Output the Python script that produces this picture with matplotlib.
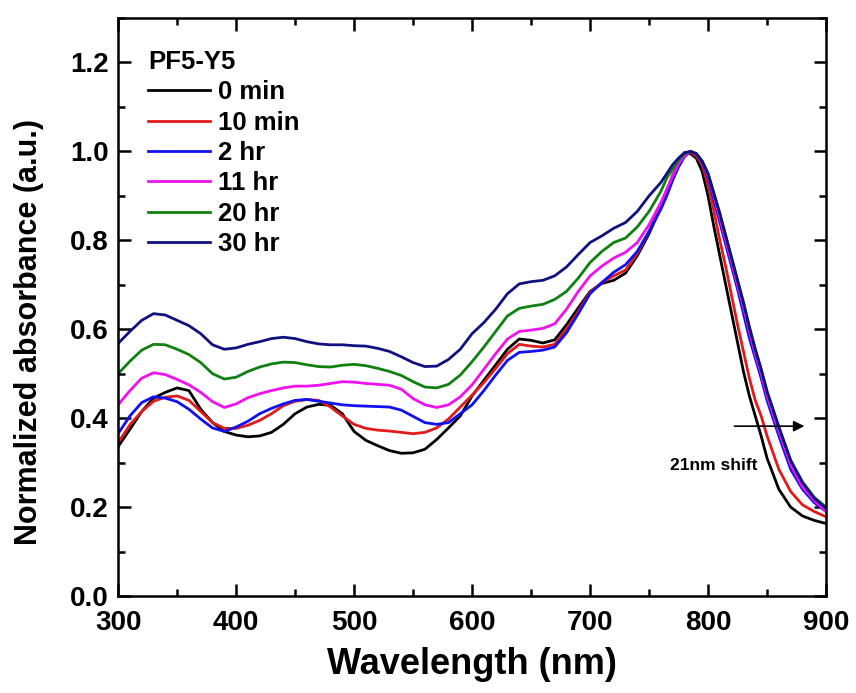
import matplotlib
matplotlib.use("Agg")
import matplotlib.pyplot as plt
from matplotlib.ticker import MultipleLocator

plt.rcParams['font.family'] = ['Liberation Sans', 'DejaVu Sans']
plt.rcParams['font.weight'] = 'bold'

wavelength = [300, 310, 320, 330, 340, 350, 360, 370, 380, 390,
              400, 410, 420, 430, 440, 450, 460, 470, 480, 490,
              500, 510, 520, 530, 540, 550, 560, 570, 580, 590,
              600, 610, 620, 630, 640, 650, 660, 670, 680, 690,
              700, 710, 720, 730, 740, 750, 760, 765, 770, 775,
              780, 785, 790, 795, 800, 805, 810, 815, 820, 825,
              830, 835, 840, 845, 850, 860, 870, 880, 890, 900]

abs_0min = [0.336, 0.375, 0.415, 0.445, 0.458, 0.468, 0.462, 0.42, 0.39, 0.37,
            0.362, 0.358, 0.36, 0.368, 0.386, 0.41, 0.425, 0.431, 0.429, 0.41,
            0.37, 0.35, 0.338, 0.327, 0.321, 0.322, 0.33, 0.352, 0.378, 0.405,
            0.45, 0.485, 0.52, 0.555, 0.578, 0.575, 0.569, 0.576, 0.61, 0.648,
            0.685, 0.703, 0.71, 0.726, 0.765, 0.815, 0.875, 0.91, 0.945, 0.975,
            0.997, 0.995, 0.985, 0.955, 0.9, 0.83, 0.765, 0.70, 0.635, 0.57,
            0.505, 0.45, 0.405, 0.36, 0.31, 0.24, 0.2, 0.18, 0.17, 0.163]

abs_10min = [0.345, 0.385, 0.415, 0.438, 0.447, 0.45, 0.44, 0.415, 0.39, 0.377,
             0.377, 0.384, 0.395, 0.41, 0.428, 0.438, 0.442, 0.44, 0.425, 0.405,
             0.386, 0.377, 0.373, 0.371, 0.368, 0.365, 0.368, 0.378, 0.398, 0.425,
             0.452, 0.48, 0.512, 0.545, 0.566, 0.562, 0.56, 0.566, 0.6, 0.64,
             0.683, 0.705, 0.72, 0.733, 0.77, 0.82, 0.88, 0.91, 0.945, 0.975,
             0.993, 0.998, 0.99, 0.97, 0.925, 0.865, 0.8, 0.74, 0.675, 0.61,
             0.55, 0.49, 0.44, 0.405, 0.36, 0.285, 0.235, 0.205, 0.19, 0.178]

abs_2hr = [0.365, 0.405, 0.435, 0.448, 0.445, 0.437, 0.42, 0.398, 0.378, 0.37,
           0.38, 0.393, 0.41, 0.422, 0.432, 0.44, 0.442, 0.438, 0.434, 0.43,
           0.428, 0.427, 0.426, 0.425, 0.418, 0.404, 0.39, 0.386, 0.39, 0.41,
           0.43, 0.462, 0.497, 0.53, 0.548, 0.55, 0.553, 0.56, 0.592, 0.635,
           0.68, 0.705, 0.728, 0.745, 0.775, 0.82, 0.87, 0.9, 0.935, 0.965,
           0.988, 1.0, 0.995, 0.975, 0.94, 0.89, 0.84, 0.79, 0.74, 0.69,
           0.635, 0.58, 0.535, 0.49, 0.44, 0.36, 0.285, 0.24, 0.21, 0.19]

abs_11hr = [0.43, 0.462, 0.49, 0.502, 0.498, 0.487, 0.475, 0.458, 0.437, 0.424,
            0.432, 0.446, 0.455, 0.462, 0.468, 0.472, 0.472, 0.474, 0.478, 0.482,
            0.481, 0.478, 0.476, 0.474, 0.465, 0.444, 0.43, 0.424, 0.43, 0.448,
            0.475, 0.51, 0.545, 0.578, 0.595, 0.598, 0.602, 0.612, 0.645, 0.685,
            0.72, 0.742, 0.76, 0.773, 0.795, 0.835, 0.885, 0.915, 0.945, 0.972,
            0.99, 1.0, 0.995, 0.978, 0.945, 0.9, 0.85, 0.80, 0.75, 0.70,
            0.65, 0.595, 0.545, 0.5, 0.45, 0.37, 0.295, 0.245, 0.215, 0.19]

abs_20hr = [0.5, 0.528, 0.553, 0.566, 0.565, 0.555, 0.543, 0.525, 0.5, 0.488,
            0.492, 0.505, 0.515, 0.522, 0.526, 0.525, 0.52, 0.516, 0.515, 0.519,
            0.521, 0.518, 0.512, 0.505, 0.496, 0.482, 0.47, 0.468, 0.476, 0.497,
            0.527, 0.56, 0.595, 0.63, 0.647, 0.652, 0.656, 0.667, 0.685, 0.715,
            0.75, 0.775, 0.795, 0.805, 0.83, 0.865, 0.91, 0.94, 0.96, 0.98,
            0.995, 1.0, 0.995, 0.978, 0.95, 0.905, 0.86, 0.81, 0.76, 0.71,
            0.66, 0.605, 0.555, 0.51, 0.46, 0.38, 0.305, 0.257, 0.222, 0.2]

abs_30hr = [0.568, 0.595, 0.62, 0.635, 0.632, 0.62, 0.608, 0.59, 0.565, 0.555,
            0.558, 0.566, 0.572, 0.579, 0.582, 0.579, 0.572, 0.567, 0.565, 0.565,
            0.563, 0.562, 0.557, 0.55, 0.538, 0.525, 0.516, 0.517, 0.532, 0.555,
            0.59, 0.615, 0.645, 0.68, 0.702, 0.707, 0.71, 0.72, 0.74, 0.768,
            0.795, 0.81, 0.827, 0.84, 0.865, 0.9, 0.93, 0.95, 0.97, 0.985,
            0.997, 1.0, 0.995, 0.978, 0.95, 0.905, 0.86, 0.81, 0.76, 0.71,
            0.66, 0.605, 0.555, 0.51, 0.46, 0.38, 0.305, 0.255, 0.22, 0.197]

labels = ["0 min", "10 min", "2 hr", "11 hr", "20 hr", "30 hr"]
colors = ["#000000", "#e31a1c", "#1010f0", "#f010f0", "#108010", "#101080"]
series = [abs_0min, abs_10min, abs_2hr, abs_11hr, abs_20hr, abs_30hr]

fig = plt.figure(figsize=(8.56, 6.93), dpi=100)
ax = fig.add_axes([0.138, 0.14, 0.827, 0.834])

for y, lab, c in zip(series, labels, colors):
    ax.plot(wavelength, y, color=c, lw=2.0, label=lab)

ax.set_xlim(300, 900)
ax.set_ylim(0, 1.3)
ax.xaxis.set_major_locator(MultipleLocator(100))
ax.xaxis.set_minor_locator(MultipleLocator(50))
ax.yaxis.set_major_locator(MultipleLocator(0.2))
ax.yaxis.set_minor_locator(MultipleLocator(0.1))
ax.yaxis.set_major_formatter(plt.FuncFormatter(lambda v, p: f"{v:.1f}"))

ax.tick_params(which='both', direction='in', top=True, right=True, width=1.8)
ax.tick_params(which='major', length=9, labelsize=20)
ax.tick_params(axis='x', which='major', pad=10)
ax.tick_params(axis='y', which='major', pad=7)
ax.tick_params(which='minor', length=5)
for lbl in ax.get_xticklabels() + ax.get_yticklabels():
    lbl.set_fontweight('bold')
for s in ax.spines.values():
    s.set_linewidth(1.8)

ax.set_xlabel("Wavelength (nm)", fontsize=26, fontweight='bold')
ax.set_ylabel("Normalized absorbance (a.u.)", fontsize=22, fontweight='bold')
ax.xaxis.set_label_coords(0.5, -0.088)
ax.yaxis.set_label_coords(-0.105, 0.457)

leg = ax.legend(title="PF5-Y5", loc='upper left', frameon=False,
                fontsize=18.5, title_fontsize=18.5, handlelength=2.4,
                handletextpad=0.3, labelspacing=0.25,
                borderaxespad=0.0, bbox_to_anchor=(0.028, 0.963))
leg.get_title().set_fontweight('bold')
leg._legend_box.align = "left"
for t in leg.get_texts():
    t.set_fontweight('bold')

ax.annotate("", xy=(884, 0.382), xytext=(820, 0.382),
            arrowprops=dict(arrowstyle='-|>', color='black', lw=1.2,
                            mutation_scale=16))
ax.text(805, 0.294, "21nm shift", fontsize=12.5, fontweight='bold',
        ha='center', va='center')

fig.savefig("out.png", dpi=100)
